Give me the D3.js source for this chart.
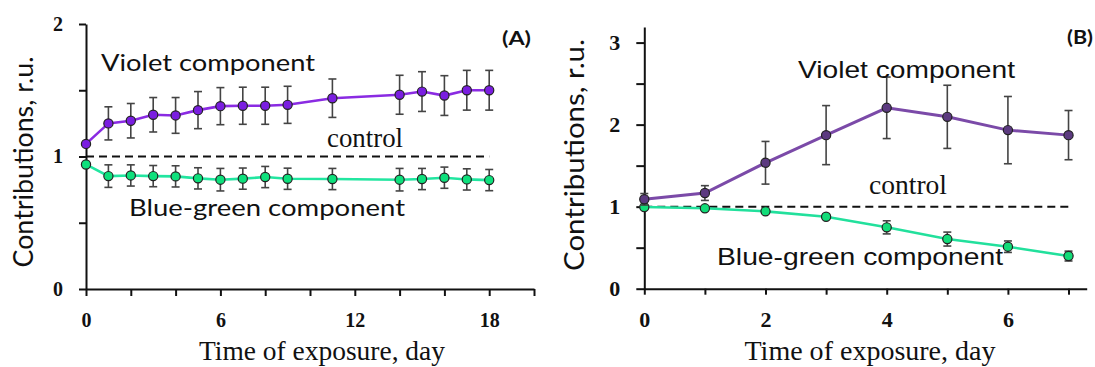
<!DOCTYPE html>
<html>
<head>
<meta charset="utf-8">
<script src="https://cdn.jsdelivr.net/npm/d3@7"></script>
<style>
  body { margin: 0; background: #fff; }
  svg { display: block; }
</style>
</head>
<body>
<script>
// Panel A data (days 0..18)
var daysA = [0, 1, 2, 3, 4, 5, 6, 7, 8, 9, 11, 14, 15, 16, 17, 18];
var violetA = [1.095, 1.25, 1.27, 1.315, 1.31, 1.35, 1.38, 1.383, 1.383, 1.39, 1.44, 1.466, 1.49, 1.46, 1.50, 1.50];
var violetErrA = [0, 0.125, 0.13, 0.13, 0.135, 0.14, 0.14, 0.14, 0.14, 0.14, 0.145, 0.147, 0.15, 0.15, 0.15, 0.15];
var greenA = [0.94, 0.852, 0.857, 0.852, 0.85, 0.835, 0.825, 0.833, 0.845, 0.832, 0.83, 0.825, 0.83, 0.84, 0.827, 0.822];
var greenErrA = [0, 0.085, 0.08, 0.08, 0.08, 0.08, 0.085, 0.08, 0.08, 0.08, 0.08, 0.085, 0.08, 0.08, 0.08, 0.08];

// Panel B data (days 0..7)
var daysB = [0, 1, 2, 3, 4, 5, 6, 7];
var violetB = [1.09, 1.166, 1.535, 1.872, 2.205, 2.095, 1.933, 1.872];
var violetErrB = [0.07, 0.09, 0.26, 0.36, 0.375, 0.385, 0.41, 0.30];
var greenB = [0.995, 0.98, 0.943, 0.877, 0.748, 0.605, 0.512, 0.398];
var greenErrB = [0.02, 0.02, 0.02, 0.03, 0.08, 0.085, 0.07, 0.06];

// ticks
var xTicksA = [0, 2, 4, 6, 8, 10, 12, 14, 16, 18, 20];
var xLabelsA = [0, 6, 12, 18];
var yTicksA = [0, 0.5, 1, 1.5, 2];
var yLabelsA = [0, 1, 2];
var xTicksB = [0, 1, 2, 3, 4, 5, 6, 7];
var xLabelsB = [0, 2, 4, 6];
var yTicksB = [0, 0.5, 1, 1.5, 2, 2.5, 3];
var yLabelsB = [0, 1, 2, 3];

var width = 1095;
var height = 367;

var svg = d3.select("body")
  .append("svg")
  .attr("width", width)
  .attr("height", height);

svg.append("rect").attr("width", width).attr("height", height).attr("fill", "#fff");

var serif = "'Times New Roman', 'Liberation Serif', Times, serif";

function drawPanel(p) {
  var x = d3.scaleLinear().domain(p.xDomain).range(p.xRange);
  var y = d3.scaleLinear().domain(p.yDomain).range(p.yRange);
  var g = svg.append("g");

  // x axis
  var xAxis = g.append("g")
    .attr("transform", "translate(0," + p.yRange[0] + ")")
    .call(d3.axisBottom(x)
      .tickValues(p.xTicks)
      .tickSize(p.xTickSize)
      .tickSizeOuter(0)
      .tickPadding(p.xTickPad)
      .tickFormat(function(d) { return p.xLabels.indexOf(d) >= 0 ? d : ""; }));

  // y axis
  var yAxis = g.append("g")
    .attr("transform", "translate(" + p.xRange[0] + ",0)")
    .call(d3.axisLeft(y)
      .tickValues(p.yTicks)
      .tickSize(p.yTickSize)
      .tickSizeOuter(0)
      .tickPadding(16)
      .tickFormat(function(d) { return p.yLabels.indexOf(d) >= 0 ? d : ""; }));

  [xAxis, yAxis].forEach(function(ax) {
    ax.attr("font-family", serif)
      .attr("font-size", p.tickFont)
      .attr("font-weight", "bold");
    ax.selectAll("text").attr("fill", "#111");
  });

  g.selectAll(".domain").attr("stroke", "#111").attr("stroke-width", 2);
  g.selectAll(".tick line").attr("stroke", "#111").attr("stroke-width", 2);

  // control line at 1
  g.append("line")
    .attr("x1", x(0))
    .attr("x2", x(p.controlEnd))
    .attr("y1", y(1))
    .attr("y2", y(1))
    .attr("stroke", "#111")
    .attr("stroke-width", 2)
    .attr("stroke-dasharray", "8,5");

  // series
  p.series.forEach(function(s) {
    var pts = p.days.map(function(d, i) { return { d: d, v: s.values[i], e: s.errs[i] }; });

    var bars = g.append("g");
    pts.forEach(function(pt) {
      if (!pt.e) return;
      var y1 = y(pt.v - pt.e), y2 = y(pt.v + pt.e), cx = x(pt.d);
      bars.append("line").attr("x1", cx).attr("x2", cx).attr("y1", y1).attr("y2", y2);
      bars.append("line").attr("x1", cx - 4).attr("x2", cx + 4).attr("y1", y1).attr("y2", y1);
      bars.append("line").attr("x1", cx - 4).attr("x2", cx + 4).attr("y1", y2).attr("y2", y2);
    });
    bars.selectAll("line").attr("stroke", "#444").attr("stroke-width", 1.6);

    g.append("path")
      .datum(pts)
      .attr("fill", "none")
      .attr("stroke", s.line)
      .attr("stroke-width", s.width)
      .attr("d", d3.line().x(function(d) { return x(d.d); }).y(function(d) { return y(d.v); }));

    g.selectAll(null)
      .data(pts)
      .enter()
      .append("circle")
      .attr("cx", function(d) { return x(d.d); })
      .attr("cy", function(d) { return y(d.v); })
      .attr("r", 4.6)
      .attr("fill", s.fill)
      .attr("stroke", "#222")
      .attr("stroke-width", 1.2);
  });

  // texts
  p.texts.forEach(function(t) {
    var el = g.append("text")
      .attr("x", t.x)
      .attr("y", t.y)
      .attr("font-family", t.font)
      .attr("font-size", t.size)
      .attr("font-weight", t.bold ? "bold" : "normal")
      .attr("fill", "#111")
      .text(t.text);
    if (t.len) el.attr("textLength", t.len).attr("lengthAdjust", "spacingAndGlyphs");
    if (t.anchor) el.attr("text-anchor", t.anchor);
    if (t.rotate) el.attr("transform", "rotate(-90," + t.x + "," + t.y + ")");
  });
}

var sansA = "Lato, 'Open Sans', sans-serif";
var sansB = "'Liberation Sans', Arial, sans-serif";

drawPanel({
  xDomain: [0, 20], xRange: [86, 534],
  yDomain: [0, 2], yRange: [289, 24],
  xTicks: xTicksA, xLabels: xLabelsA, yTicks: yTicksA, yLabels: yLabelsA,
  xTickSize: 7, xTickPad: 17, yTickSize: 7, tickFont: 20,
  controlEnd: 18,
  days: daysA,
  series: [
    { values: greenA, errs: greenErrA, line: "#22e6a0", fill: "#0ee07c", width: 2.6 },
    { values: violetA, errs: violetErrA, line: "#8a2be2", fill: "#7a1ee0", width: 2.6 }
  ],
  texts: [
    { text: "Violet component", x: 101, y: 71, size: 24, font: sansA, len: 214 },
    { text: "Blue-green component", x: 129, y: 216, size: 24, font: sansA, len: 276 },
    { text: "(A)", x: 502, y: 45, size: 18, font: sansA, bold: true, len: 29 },
    { text: "control", x: 327, y: 147, size: 27, font: serif, len: 76 },
    { text: "Contributions, r.u.", x: 33, y: 162, size: 26, font: sansA, len: 211, anchor: "middle", rotate: true },
    { text: "Time of exposure, day", x: 322, y: 360, size: 28, font: serif, len: 246, anchor: "middle" }
  ]
});

drawPanel({
  xDomain: [0, 7.3], xRange: [644.3, 1086.7],
  yDomain: [0, 3.19], yRange: [288.7, 27],
  xTicks: xTicksB, xLabels: xLabelsB, yTicks: yTicksB, yLabels: yLabelsB,
  xTickSize: 6, xTickPad: 17, yTickSize: 8, tickFont: 22,
  controlEnd: 7,
  days: daysB,
  series: [
    { values: greenB, errs: greenErrB, line: "#22e09c", fill: "#12dc78", width: 2.6 },
    { values: violetB, errs: violetErrB, line: "#7b4aa8", fill: "#5c3a80", width: 3 }
  ],
  texts: [
    { text: "Violet component", x: 798, y: 77.5, size: 24, font: sansB, len: 217 },
    { text: "Blue-green component", x: 717, y: 264.5, size: 24, font: sansB, len: 286 },
    { text: "(B)", x: 1067, y: 44, size: 18, font: sansA, bold: true, len: 26 },
    { text: "control", x: 869, y: 194, size: 27, font: serif, len: 78 },
    { text: "Contributions, r.u.", x: 584, y: 155, size: 26, font: sansA, len: 232, anchor: "middle", rotate: true },
    { text: "Time of exposure, day", x: 870, y: 360, size: 28, font: serif, len: 251, anchor: "middle" }
  ]
});
</script>
</body>
</html>
